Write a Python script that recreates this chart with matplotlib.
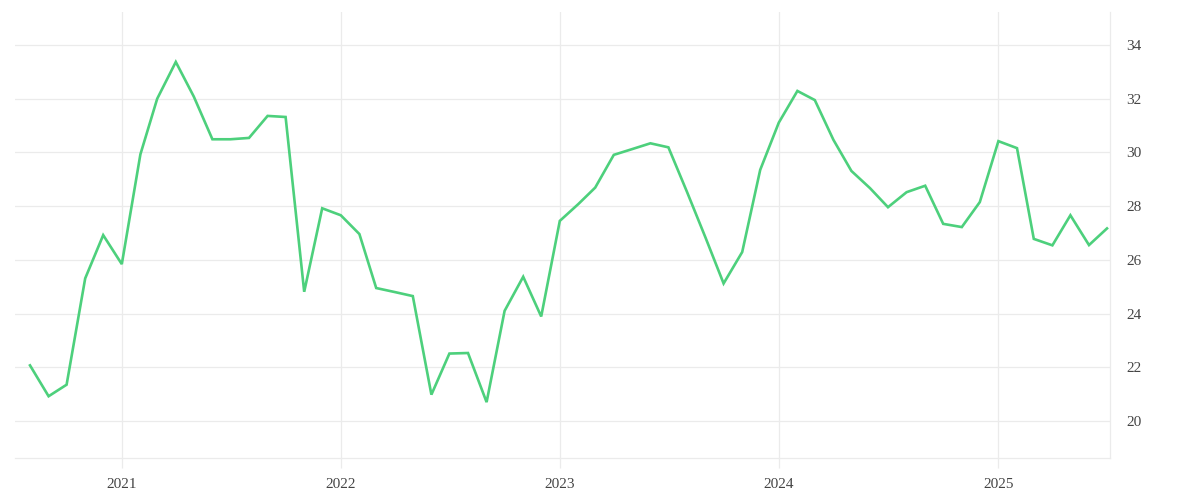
import matplotlib
matplotlib.use('Agg')
import matplotlib.pyplot as plt
import matplotlib.dates as mdates
import pandas as pd

# Serie mensual ago-2020 .. jul-2025
fechas = pd.date_range('2020-08-01', '2025-07-01', freq='MS')
valores = [
    22.07, 20.92, 21.35, 25.31, 26.92,                                   # 2020 ago-dic
    25.84, 29.93, 32.00, 33.37, 32.08, 30.49, 30.49, 30.54, 31.36, 31.32, 24.81, 27.92,  # 2021
    27.66, 26.96, 24.95, 24.80, 24.65, 20.98, 22.51, 22.53, 20.70, 24.10, 25.37, 23.89,  # 2022
    27.45, 28.08, 28.69, 29.91, 30.12, 30.34, 30.19, 28.53, 26.82, 25.12, 26.29, 29.35,  # 2023
    31.11, 32.29, 31.95, 30.47, 29.31, 28.67, 27.96, 28.52, 28.76, 27.34, 27.22, 28.15,  # 2024
    30.42, 30.16, 26.78, 26.54, 27.66, 26.55, 27.17,                     # 2025 ene-jul
]
anios = ['2021', '2022', '2023', '2024', '2025']
y_ticks = [20, 22, 24, 26, 28, 30, 32, 34]

COLOR_LINEA = '#4dd07c'
COLOR_GRID = '#ebebeb'
COLOR_TEXTO = '#444444'

plt.rcParams['font.family'] = ['Liberation Serif', 'DejaVu Serif']

fig = plt.figure(figsize=(12, 5), dpi=100)
ax = fig.add_axes([0.0125, 0.084, 0.9125, 0.892])

ax.plot(fechas, valores, color=COLOR_LINEA, linewidth=1.9, solid_joinstyle='miter')

ax.set_xlim(pd.Timestamp('2020-07-07'), pd.Timestamp('2025-07-06'))
ax.set_ylim(18.62, 35.23)

ax.set_xticks([pd.Timestamp(f'{a}-01-01') for a in anios])
ax.xaxis.set_major_formatter(mdates.DateFormatter('%Y'))
ax.set_yticks(y_ticks)

ax.yaxis.tick_right()
ax.grid(True, color=COLOR_GRID, linewidth=0.9)
ax.set_axisbelow(True)

for lado in ['left', 'top']:
    ax.spines[lado].set_visible(False)
for lado in ['bottom', 'right']:
    ax.spines[lado].set_color(COLOR_GRID)
    ax.spines[lado].set_linewidth(0.9)

ax.tick_params(axis='x', length=7.2, width=0.9, color=COLOR_GRID, pad=7,
               labelsize=11, labelcolor=COLOR_TEXTO)
ax.tick_params(axis='y', length=0, pad=12, labelsize=11, labelcolor=COLOR_TEXTO)

plt.savefig('out.png', dpi=100)
plt.close()
